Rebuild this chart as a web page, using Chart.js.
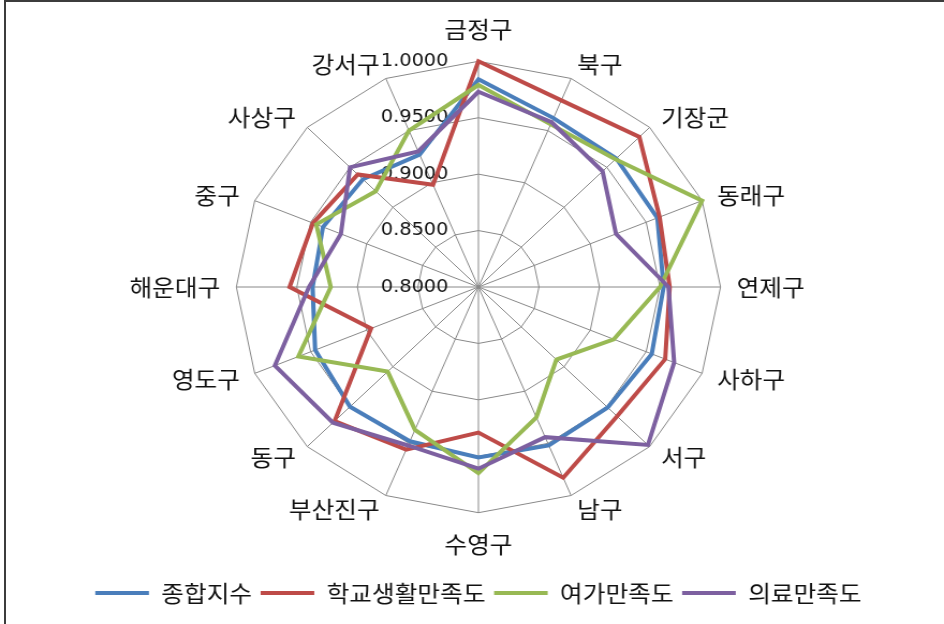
<!DOCTYPE html>
<html>
<head>
<meta charset="utf-8">
<script src="https://cdn.jsdelivr.net/npm/chart.js@4.4.1/dist/chart.umd.min.js"></script>
<style>
html, body { margin: 0; padding: 0; background: #fff; overflow: hidden; }
#frame { position: absolute; left: 4px; top: 0; width: 980px; height: 660px; border-top: 2px solid #3c3c3c; border-left: 2px solid #3c3c3c; }
#wrap { position: absolute; left: 0; top: 0; width: 880px; height: 624px; transform: scaleX(1.0727); transform-origin: 0 0; }
</style>
</head>
<body>
<div id="frame"></div>
<div id="wrap"><canvas id="myChart"></canvas></div>
<script>
// 부산 구·군별 만족도 지수
var districts = ['금정구', '북구', '기장군', '동래구', '연제구', '사하구', '서구', '남구',
                 '수영구', '부산진구', '동구', '영도구', '해운대구', '중구', '사상구', '강서구'];

var total   = [0.984, 0.962, 0.961, 0.960, 0.953, 0.955, 0.951, 0.952, 0.951, 0.948, 0.950, 0.946, 0.937, 0.939, 0.935, 0.927];
var school  = [1.000, 0.979, 0.988, 0.962, 0.958, 0.967, 0.962, 0.983, 0.929, 0.956, 0.968, 0.896, 0.956, 0.948, 0.941, 0.898];
var leisure = [0.979, 0.956, 0.960, 1.000, 0.950, 0.921, 0.891, 0.925, 0.965, 0.937, 0.906, 0.961, 0.922, 0.945, 0.920, 0.950];
var medical = [0.973, 0.958, 0.945, 0.923, 0.957, 0.975, 0.998, 0.944, 0.961, 0.952, 0.970, 0.982, 0.940, 0.923, 0.950, 0.930];

var tickValues = [0.80, 0.85, 0.90, 0.95, 1.00];
var tickLabels = ['0.8000', '0.8500', '0.9000', '0.9500', '1.0000'];

// value labels sit left of the vertical axis, centre one included
var tickText = {
  id: 'tickText',
  beforeDatasetsDraw: function(chart) {
    var r = chart.scales.r;
    var ctx = chart.ctx;
    ctx.save();
    ctx.font = '18px "DejaVu Sans"';
    ctx.fillStyle = '#111';
    ctx.textAlign = 'right';
    ctx.textBaseline = 'middle';
    r.ticks.forEach(function(t) {
      ctx.fillText(t.label, r.xCenter - 28, r.yCenter - r.getDistanceFromCenterForValue(t.value));
    });
    ctx.restore();
  }
};

// side labels centred vertically on their spoke, like the original
var centerLabels = {
  id: 'centerLabels',
  afterLayout: function(chart) {
    var items = chart.scales.r._pointLabelItems;
    if (!items) return;
    var n = items.length;
    items.forEach(function(item, i) {
      var deg = 360 * i / n;
      var half = (item.bottom - item.top) / 2;
      var dy = 0;
      if ((deg > 0 && deg < 90) || deg > 270) dy = half;
      else if (deg > 90 && deg < 270 && deg !== 180) dy = -half;
      item.y += dy; item.top += dy; item.bottom += dy;
    });
  }
};

var ctx = document.getElementById('myChart').getContext('2d');
var myChart = new Chart(ctx, {
  type: 'radar',
  data: {
    labels: districts,
    datasets: [{
        label: '종합지수',
        data: total,
        borderColor: '#4A7EBB',
        backgroundColor: '#4A7EBB',
        borderWidth: 4,
        fill: false,
        order: 3
      }, {
        label: '학교생활만족도',
        data: school,
        borderColor: '#BE4B48',
        backgroundColor: '#BE4B48',
        borderWidth: 4,
        fill: false,
        order: 2
      }, {
        label: '여가만족도',
        data: leisure,
        borderColor: '#98B954',
        backgroundColor: '#98B954',
        borderWidth: 4,
        fill: false,
        order: 1
      }, {
        label: '의료만족도',
        data: medical,
        borderColor: '#7D60A0',
        backgroundColor: '#7D60A0',
        borderWidth: 4,
        fill: false,
        order: 0
      }
    ]
  },
  options: {
    responsive: true,
    maintainAspectRatio: false,
    animation: false,
    layout: { padding: { top: 15.7, bottom: 9.5, left: 12, right: 0 } },
    elements: {
      point: { radius: 0, hoverRadius: 0 },
      line: { tension: 0, borderJoinStyle: 'miter' }
    },
    plugins: {
      tooltip: { enabled: false },
      legend: {
        position: 'bottom',
        title: { display: true, text: ' ', font: { size: 5 }, padding: { top: 8.6, bottom: 0 } },
        labels: {
          usePointStyle: true,
          pointStyle: 'line',
          pointStyleWidth: 50,
          padding: 8,
          color: '#111',
          font: { family: '"Noto Sans CJK KR"', size: 23 },
          sort: function(a, b) { return a.datasetIndex - b.datasetIndex; }
        }
      }
    },
    scales: {
      r: {
        min: tickValues[0],
        max: tickValues[tickValues.length - 1],
        beginAtZero: false,
        ticks: {
          stepSize: 0.05,
          display: false,
          callback: function(v) {
            var i = tickValues.findIndex(function(t) { return Math.abs(t - v) < 1e-6; });
            return i >= 0 ? tickLabels[i] : '';
          }
        },
        grid: { color: '#888888', lineWidth: 1 },
        angleLines: { color: '#888888', lineWidth: 1 },
        pointLabels: {
          color: '#111',
          padding: function(c) { return c.index % 8 === 0 ? 18 : 15; },
          font: { family: '"Noto Sans CJK KR"', size: 23 }
        }
      }
    }
  },
  plugins: [tickText, centerLabels]
});
</script>
</body>
</html>
